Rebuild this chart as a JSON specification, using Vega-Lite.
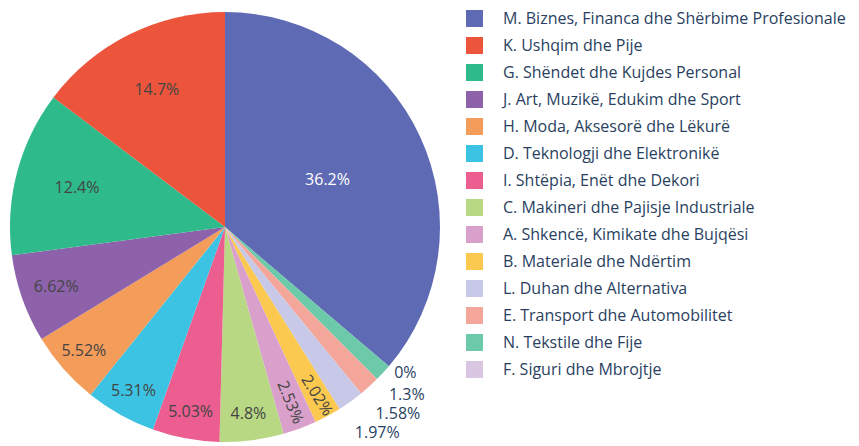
{
  "$schema": "https://vega.github.io/schema/vega-lite/v6.json",
  "width": 450,
  "height": 438,
  "padding": {"left": 0, "top": 8, "right": 0, "bottom": 0},
  "autosize": {"type": "pad"},
  "config": {"view": {"stroke": null}, "font": "Open Sans"},
  "data": {
    "values": [
      {"cat": "M. Biznes, Financa dhe Shërbime Profesionale", "key": "M", "value": 36.2, "label": "36.2%", "ord": 1},
      {"cat": "F. Siguri dhe Mbrojtje", "key": "F", "value": 0, "label": "0%", "ord": 2},
      {"cat": "N. Tekstile dhe Fije", "key": "N", "value": 1.3, "label": "1.3%", "ord": 3},
      {"cat": "E. Transport dhe Automobilitet", "key": "E", "value": 1.58, "label": "1.58%", "ord": 4},
      {"cat": "L. Duhan dhe Alternativa", "key": "L", "value": 1.97, "label": "1.97%", "ord": 5},
      {"cat": "B. Materiale dhe Ndërtim", "key": "B", "value": 2.02, "label": "2.02%", "ord": 6},
      {"cat": "A. Shkencë, Kimikate dhe Bujqësi", "key": "A", "value": 2.53, "label": "2.53%", "ord": 7},
      {"cat": "C. Makineri dhe Pajisje Industriale", "key": "C", "value": 4.8, "label": "4.8%", "ord": 8},
      {"cat": "I. Shtëpia, Enët dhe Dekori", "key": "I", "value": 5.03, "label": "5.03%", "ord": 9},
      {"cat": "D. Teknologji dhe Elektronikë", "key": "D", "value": 5.31, "label": "5.31%", "ord": 10},
      {"cat": "H. Moda, Aksesorë dhe Lëkurë", "key": "H", "value": 5.52, "label": "5.52%", "ord": 11},
      {"cat": "J. Art, Muzikë, Edukim dhe Sport", "key": "J", "value": 6.62, "label": "6.62%", "ord": 12},
      {"cat": "G. Shëndet dhe Kujdes Personal", "key": "G", "value": 12.4, "label": "12.4%", "ord": 13},
      {"cat": "K. Ushqim dhe Pije", "key": "K", "value": 14.7, "label": "14.7%", "ord": 14}
    ]
  },
  "layer": [
    {
      "mark": {"type": "arc", "outerRadius": 215, "strokeWidth": 0},
      "encoding": {
        "theta": {"field": "value", "type": "quantitative", "stack": true},
        "order": {"field": "ord", "type": "quantitative"},
        "color": {
          "field": "cat",
          "type": "nominal",
          "scale": {
            "domain": [
              "M. Biznes, Financa dhe Shërbime Profesionale",
              "K. Ushqim dhe Pije",
              "G. Shëndet dhe Kujdes Personal",
              "J. Art, Muzikë, Edukim dhe Sport",
              "H. Moda, Aksesorë dhe Lëkurë",
              "D. Teknologji dhe Elektronikë",
              "I. Shtëpia, Enët dhe Dekori",
              "C. Makineri dhe Pajisje Industriale",
              "A. Shkencë, Kimikate dhe Bujqësi",
              "B. Materiale dhe Ndërtim",
              "L. Duhan dhe Alternativa",
              "E. Transport dhe Automobilitet",
              "N. Tekstile dhe Fije",
              "F. Siguri dhe Mbrojtje"
            ],
            "range": ["#5F6AB4", "#EC543B", "#2EBA8A", "#8D62AB", "#F49D5A", "#3CC3E3", "#EB5E8F", "#B8D883", "#D9A0CC", "#FBC94F", "#C8C8E8", "#F3A699", "#6CC9AA", "#D9C6E3"]
          },
          "legend": {
            "title": null,
            "orient": "right",
            "offset": 14,
            "padding": 2,
            "symbolType": "square",
            "symbolSize": 289,
            "symbolStrokeWidth": 0,
            "labelFont": "Open Sans",
            "labelFontSize": 16,
            "labelColor": "#2a3f5f",
            "labelOffset": 20,
            "rowPadding": 10,
            "labelLimit": 500
          }
        }
      }
    },
    {
      "mark": {"type": "text", "radius": 113, "fontSize": 16, "color": "#ffffff"},
      "encoding": {
        "theta": {"field": "value", "type": "quantitative", "stack": true},
        "order": {"field": "ord", "type": "quantitative"},
        "text": {"condition": {"test": "datum.key === 'M'", "field": "label"}, "value": ""}
      }
    },
    {
      "mark": {"type": "text", "radius": 153, "fontSize": 16, "color": "#444444"},
      "encoding": {
        "theta": {"field": "value", "type": "quantitative", "stack": true},
        "order": {"field": "ord", "type": "quantitative"},
        "text": {"condition": {"test": "datum.key === 'K' || datum.key === 'G'", "field": "label"}, "value": ""}
      }
    },
    {
      "mark": {"type": "text", "radius": 179, "fontSize": 16, "color": "#444444"},
      "encoding": {
        "theta": {"field": "value", "type": "quantitative", "stack": true},
        "order": {"field": "ord", "type": "quantitative"},
        "text": {"condition": {"test": "datum.key === 'J'", "field": "label"}, "value": ""}
      }
    },
    {
      "mark": {"type": "text", "radius": 188, "fontSize": 16, "color": "#444444"},
      "encoding": {
        "theta": {"field": "value", "type": "quantitative", "stack": true},
        "order": {"field": "ord", "type": "quantitative"},
        "text": {"condition": {"test": "indexof(['H','D','I','C'], datum.key) >= 0", "field": "label"}, "value": ""}
      }
    },
    {
      "mark": {"type": "text", "radius": 187, "fontSize": 16, "color": "#444444", "angle": 68},
      "encoding": {
        "theta": {"field": "value", "type": "quantitative", "stack": true},
        "order": {"field": "ord", "type": "quantitative"},
        "text": {"condition": {"test": "datum.key === 'A'", "field": "label"}, "value": ""}
      }
    },
    {
      "mark": {"type": "text", "radius": 192, "fontSize": 16, "color": "#444444", "angle": 58},
      "encoding": {
        "theta": {"field": "value", "type": "quantitative", "stack": true},
        "order": {"field": "ord", "type": "quantitative"},
        "text": {"condition": {"test": "datum.key === 'B'", "field": "label"}, "value": ""}
      }
    },
    {
      "transform": [
        {"window": [{"op": "sum", "field": "value", "as": "cum"}], "sort": [{"field": "ord"}]},
        {"filter": "datum.key === 'F'"}
      ],
      "mark": {"type": "text", "radius": 222, "fontSize": 16, "color": "#2a3f5f", "align": "left", "baseline": "middle", "dx": 0, "dy": 2},
      "encoding": {
        "theta": {"field": "cum", "type": "quantitative", "stack": null},
        "text": {"field": "label"}
      }
    },
    {
      "transform": [
        {"window": [{"op": "sum", "field": "value", "as": "cum"}], "sort": [{"field": "ord"}]},
        {"filter": "datum.key === 'N'"}
      ],
      "mark": {"type": "text", "radius": 232, "fontSize": 16, "color": "#2a3f5f", "align": "left", "baseline": "middle", "dx": 0, "dy": 4},
      "encoding": {
        "theta": {"field": "cum", "type": "quantitative", "stack": null},
        "text": {"field": "label"}
      }
    },
    {
      "transform": [
        {"window": [{"op": "sum", "field": "value", "as": "cum"}], "sort": [{"field": "ord"}]},
        {"filter": "datum.key === 'E'"}
      ],
      "mark": {"type": "text", "radius": 236, "fontSize": 16, "color": "#2a3f5f", "align": "left", "baseline": "middle", "dx": 1, "dy": 4},
      "encoding": {
        "theta": {"field": "cum", "type": "quantitative", "stack": null},
        "text": {"field": "label"}
      }
    },
    {
      "transform": [
        {"window": [{"op": "sum", "field": "value", "as": "cum"}], "sort": [{"field": "ord"}]},
        {"filter": "datum.key === 'L'"}
      ],
      "mark": {"type": "text", "radius": 240, "fontSize": 16, "color": "#2a3f5f", "align": "left", "baseline": "middle", "dx": 2, "dy": 3},
      "encoding": {
        "theta": {"field": "cum", "type": "quantitative", "stack": null},
        "text": {"field": "label"}
      }
    }
  ]
}
